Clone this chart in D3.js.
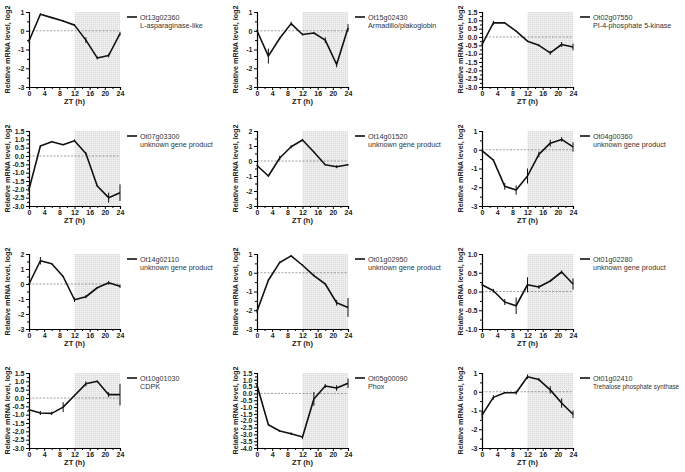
<!DOCTYPE html>
<html><head><meta charset="utf-8">
<script src="https://cdn.jsdelivr.net/npm/d3@7"></script>
<style>body{margin:0;background:#fff}svg{display:block;font-family:"Liberation Sans",Arial,sans-serif}</style>
</head><body><svg id="c" width="685" height="472"></svg>
<script>
const zt = [0,3,6,9,12,15,18,21,24];
const xTicks = [0,4,8,12,16,20,24];
const geneIds = ["Ot13g02360","Ot15g02430","Ot02g07550","Ot07g03300","Ot14g01520","Ot04g00360","Ot14g02110","Ot01g02950","Ot01g02280","Ot10g01030","Ot05g00090","Ot01g02410"];
const geneNames = ["L-asparaginase-like","Armadillo/plakoglobin","PI-4-phosphate 5-kinase","unknown gene product","unknown gene product","unknown gene product","unknown gene product","unknown gene product","unknown gene product","CDPK","Phox","Trehalose phosphate synthase"];
const yMin = [-3,-3,-3,-3,-3,-3,-3,-3,-1,-3,-4,-3];
const yMax = [1,1,1.5,1.5,2,1,2,1,1,1.5,1.5,1];
const yStep = [1,1,0.5,0.5,1,1,1,1,0.5,0.5,0.5,1];
const means = [
 [-0.55,0.88,0.7,0.52,0.3,-0.5,-1.45,-1.32,-0.15],
 [0,-1.35,-0.4,0.38,-0.2,-0.12,-0.5,-1.8,0.15],
 [-0.45,0.85,0.85,0.35,-0.25,-0.5,-0.95,-0.45,-0.6],
 [-2.0,0.6,0.85,0.68,0.92,0.15,-1.8,-2.5,-2.2],
 [-0.3,-1.0,0.2,0.95,1.4,0.6,-0.25,-0.38,-0.25],
 [-0.05,-0.55,-1.95,-2.15,-1.4,-0.25,0.35,0.55,0.15],
 [0,1.55,1.35,0.5,-1.05,-0.85,-0.25,0.08,-0.15],
 [-2.05,-0.4,0.55,0.9,0.4,-0.15,-0.6,-1.6,-1.85],
 [0.18,0.02,-0.28,-0.38,0.18,0.12,0.28,0.52,0.2],
 [-0.7,-0.9,-0.92,-0.55,0.15,0.85,1.0,0.2,0.2],
 [0.6,-2.3,-2.75,-2.95,-3.2,-0.4,0.55,0.4,0.75],
 [-1.25,-0.3,-0.05,-0.05,0.8,0.65,0.1,-0.6,-1.2]
];
const errs = [
 [0.1,0.05,0.03,0.05,0.05,0.15,0.08,0.1,0.1],
 [0.05,0.4,0.05,0.1,0.05,0.05,0.15,0.15,0.2],
 [0.05,0.12,0.03,0.03,0.03,0.05,0.12,0.15,0.2],
 [0.15,0.05,0.03,0.03,0.08,0.08,0.05,0.3,0.5],
 [0.05,0.05,0.15,0.1,0.08,0.05,0.05,0.1,0.05],
 [0.05,0.05,0.18,0.25,0.4,0.15,0.18,0.12,0.25],
 [0.05,0.25,0.05,0.05,0.15,0.1,0.05,0.12,0.12],
 [0.1,0.05,0.05,0.05,0.05,0.05,0.05,0.15,0.5],
 [0.03,0.05,0.08,0.22,0.2,0.05,0.03,0.04,0.15],
 [0.05,0.12,0.1,0.3,0.05,0.15,0.05,0.15,0.65],
 [0.1,0.05,0.08,0.1,0.15,0.5,0.15,0.2,0.35],
 [0.2,0.12,0.03,0.1,0.12,0.08,0.2,0.25,0.2]
];
const darkStart = 12, darkEnd = 24;

const svg = d3.select("#c");
const defs = svg.append("defs");
const pat = defs.append("pattern").attr("id","dots").attr("width",2).attr("height",2).attr("patternUnits","userSpaceOnUse");
pat.append("rect").attr("width",2).attr("height",2).attr("fill","#eeeeee");
pat.append("rect").attr("width",1).attr("height",1).attr("fill","#d9d9d9");

const colX = [29,257,482], rowY = [12,131,254,373];
const W = 91, H = 75;

geneIds.forEach((id,i)=>{
  const gx = colX[i%3];
  const g = svg.append("g").attr("transform",`translate(${gx},${rowY[Math.floor(i/3)]})`);
  const x = d3.scaleLinear().domain([0,24]).range([0,W]);
  const y = d3.scaleLinear().domain([yMin[i],yMax[i]]).range([H,0]);
  g.append("rect").attr("x",x(darkStart)).attr("y",0).attr("width",x(darkEnd)-x(darkStart)).attr("height",H).attr("fill","url(#dots)");
  g.append("line").attr("x1",0).attr("x2",W).attr("y1",y(0)).attr("y2",y(0)).attr("stroke","#777").attr("stroke-width",0.7).attr("stroke-dasharray","2,1.5");
  const st = yStep[i];
  const majors = d3.range(yMin[i], yMax[i]+st/2, st).map(v=>+v.toFixed(2));
  const minors = d3.range(yMin[i]+st/2, yMax[i], st).map(v=>+v.toFixed(2));
  const fmt = st<1 ? d3.format(".1f") : d3.format("d");
  const ya = g.append("g").call(d3.axisLeft(y).tickValues(majors).tickFormat(v=>fmt(v).replace("−","-")).tickSize(3).tickPadding(1.5));
  ya.append("g").call(d3.axisLeft(y).tickValues(minors).tickFormat("").tickSize(2)).select(".domain").remove();
  const xa = g.append("g").attr("transform",`translate(0,${H})`).call(d3.axisBottom(x).tickValues(xTicks).tickSize(3).tickPadding(1.5));
  xa.append("g").call(d3.axisBottom(x).tickValues(d3.range(2,24,4)).tickFormat("").tickSize(2)).select(".domain").remove();
  [ya,xa].forEach(a=>{
    a.selectAll(".domain").attr("stroke","#000").attr("stroke-width",1.2);
    a.selectAll(".tick line").attr("stroke","#000").attr("stroke-width",1);
    a.selectAll("text").attr("font-size",7).attr("font-weight","bold").attr("fill","#222");
  });
  g.append("text").attr("x",W/2).attr("y",H+17).attr("text-anchor","middle").attr("font-size",7.5).attr("font-weight","bold").attr("fill","#222").text("ZT (h)");
  g.append("text").attr("transform",`translate(${-19},${H/2}) rotate(-90)`).attr("text-anchor","middle").attr("font-size",7.2).attr("font-weight","bold").attr("fill","#222").text("Relative mRNA level, log2");
  const pts = zt.map((t,k)=>({t,v:means[i][k],e:errs[i][k]}));
  g.selectAll(".eb").data(pts).enter().append("line")
    .attr("x1",d=>x(d.t)).attr("x2",d=>x(d.t))
    .attr("y1",d=>y(Math.max(yMin[i],d.v-d.e))).attr("y2",d=>y(Math.min(yMax[i],d.v+d.e)))
    .attr("stroke","#111").attr("stroke-width",1);
  g.append("path").datum(pts).attr("fill","none").attr("stroke","#111").attr("stroke-width",1.6)
    .attr("stroke-linejoin","round")
    .attr("d",d3.line().x(d=>x(d.t)).y(d=>y(d.v)));
  g.append("line").attr("x1",W+7).attr("x2",W+17).attr("y1",5).attr("y2",5).attr("stroke","#111").attr("stroke-width",1.6);
  const fs = 7.2;
  g.append("text").attr("x",W+20).attr("y",7.8).attr("font-size",fs).attr("fill","#333").text(id);
  const t2 = g.append("text").attr("x",W+20).attr("y",16).attr("font-size",fs).attr("fill","#333").text(geneNames[i]);
  const avail = 685 - (gx+W+20) - 6;
  const len = t2.node().getComputedTextLength();
  if (len > avail) t2.attr("font-size", (fs*avail/len).toFixed(2));
});
</script></body></html>
